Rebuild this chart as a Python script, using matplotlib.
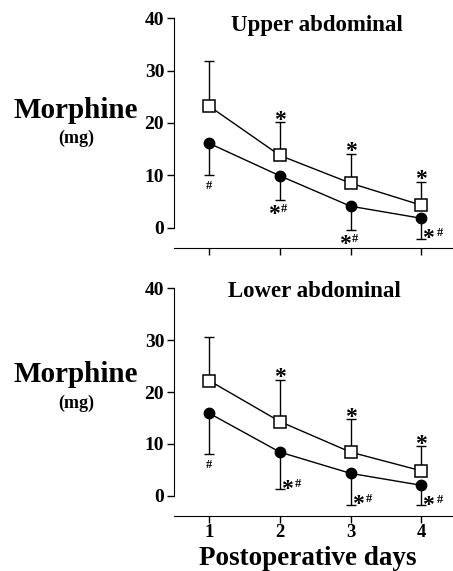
import matplotlib.pyplot as plt
from matplotlib.font_manager import FontProperties
from matplotlib.textpath import TextPath

plt.rcParams['font.family'] = ['Liberation Serif', 'DejaVu Serif']
plt.rcParams['font.weight'] = 'bold'

days = [1, 2, 3, 4]

# upper abdominal
upper_sq = [23.2, 13.8, 8.5, 4.3]
upper_sq_err = [8.6, 6.3, 5.6, 4.4]
upper_ci = [16.1, 9.9, 4.1, 1.8]
upper_ci_err = [6.0, 4.6, 4.5, 4.0]

# lower abdominal
lower_sq = [22.2, 14.3, 8.4, 4.8]
lower_sq_err = [8.5, 8.0, 6.3, 4.7]
lower_ci = [15.9, 8.4, 4.3, 2.0]
lower_ci_err = [7.8, 7.2, 6.1, 3.9]

# significance marks
upper_sq_marks = ['', '*', '*', '*']
upper_ci_marks = ['#', '*#', '*#', '*#']
lower_sq_marks = ['', '*', '*', '*']
lower_ci_marks = ['#', '*#', '*#', '*#']

STAR_SIZE = 17
HASH_SIZE = 9
fp = FontProperties(family='Liberation Serif', weight='bold')


def inkCenter(s, size):
    # offset (points) from baseline to the middle of the glyph ink
    ext = TextPath((0, 0), s, size=size, prop=fp).get_extents()
    return (ext.y0 + ext.y1) / 2


def mark(ax, s, size, x, y, dx_px, dy_px):
    # put the ink centre of s at (x, y) + pixel offset
    dy = dy_px * 0.72 - inkCenter(s, size)
    ax.annotate(s, xy=(x, y), xytext=(dx_px * 0.72, dy), textcoords='offset points',
                ha='center', va='baseline', fontsize=size, fontweight='bold')


def drawPanel(ax, title, title_xy, sq, sq_err, ci, ci_err, sq_marks, ci_marks, ci_side):
    ax.errorbar(days, sq, yerr=[[0] * 4, sq_err], fmt='none', ecolor='black',
                elinewidth=1, capsize=3.5, capthick=1)
    ax.errorbar(days, ci, yerr=[ci_err, [0] * 4], fmt='none', ecolor='black',
                elinewidth=1, capsize=3.5, capthick=1)
    ax.plot(days, sq, '-s', color='black', markerfacecolor='white',
            markersize=8, markeredgewidth=1.1, lw=1, zorder=3)
    ax.plot(days, ci, '-o', color='black', markersize=7.5, lw=1, zorder=3)

    for d, v, e, m in zip(days, sq, sq_err, sq_marks):
        if m:
            mark(ax, '*', STAR_SIZE, d, v + e, 0, 8)
    for d, v, e, m, side in zip(days, ci, ci_err, ci_marks, ci_side):
        if m == '#':
            mark(ax, '#', HASH_SIZE, d, v - e, 0, -10)
        elif side == 'below':
            mark(ax, '*', STAR_SIZE, d, v - e, -6, -9)
            mark(ax, '#', HASH_SIZE, d, v - e, 4, -8)
        else:
            mark(ax, '*', STAR_SIZE, d, v - e, 7, 6)
            mark(ax, '#', HASH_SIZE, d, v - e, 18.5, 7)

    ax.set_xlim(0.5, 4.45)
    ax.set_ylim(-3.88, 40)
    ax.set_yticks([0, 10, 20, 30, 40])
    ax.set_xticks(days)
    ax.spines['top'].set_visible(False)
    ax.spines['right'].set_visible(False)
    ax.spines['left'].set_bounds(0, 40)
    ax.tick_params(axis='both', direction='out', length=5, width=1, labelsize=14, pad=2)
    ax.tick_params(axis='x', labelsize=13.5, pad=1)
    ax.text(title_xy[0], title_xy[1], title, ha='center', va='center',
            fontsize=16.5, fontweight='bold')


fig = plt.figure(figsize=(4.53, 5.71), dpi=100)
ax1 = fig.add_axes([0.384, 0.5657, 0.616, 0.4023])
ax2 = fig.add_axes([0.384, 0.0968, 0.616, 0.398])

drawPanel(ax1, 'Upper abdominal', (2.53, 38.7), upper_sq, upper_sq_err, upper_ci,
          upper_ci_err, upper_sq_marks, upper_ci_marks,
          ['below', 'below', 'below', 'right'])
drawPanel(ax2, 'Lower abdominal', (2.49, 39.5), lower_sq, lower_sq_err, lower_ci,
          lower_ci_err, lower_sq_marks, lower_ci_marks,
          ['below', 'right', 'right', 'right'])

ax1.set_xticklabels([])
fig.text(308 / 453, 1 - 565 / 571, 'Postoperative days', ha='center', va='baseline',
         fontsize=19.5, fontweight='bold')

for base, mg in [(118, 138), (382, 403)]:
    fig.text(76 / 453, 1 - base / 571, 'Morphine', ha='center', va='baseline',
             fontsize=21, fontweight='bold')
    fig.text(76 / 453, 1 - mg / 571, '(mg)', ha='center', va='center',
             fontsize=13, fontweight='bold')

fig.savefig('out.png', dpi=100)
